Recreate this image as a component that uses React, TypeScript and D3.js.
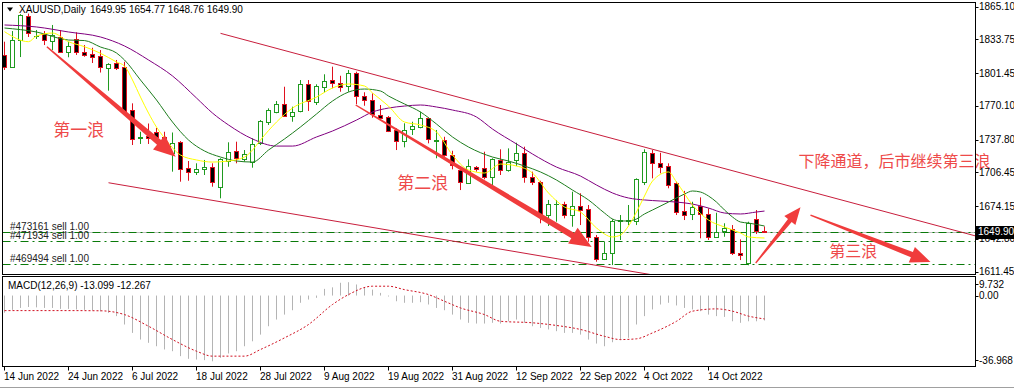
import React from "react";
import * as d3 from "d3";

// ---------- data ----------
const dates = [
  "2022-06-14","2022-06-15","2022-06-16","2022-06-17","2022-06-20","2022-06-21","2022-06-22","2022-06-23","2022-06-24","2022-06-27",
  "2022-06-28","2022-06-29","2022-06-30","2022-07-01","2022-07-04","2022-07-05","2022-07-06","2022-07-07","2022-07-08","2022-07-11",
  "2022-07-12","2022-07-13","2022-07-14","2022-07-15","2022-07-18","2022-07-19","2022-07-20","2022-07-21","2022-07-22","2022-07-25",
  "2022-07-26","2022-07-27","2022-07-28","2022-07-29","2022-08-01","2022-08-02","2022-08-03","2022-08-04","2022-08-05","2022-08-08",
  "2022-08-09","2022-08-10","2022-08-11","2022-08-12","2022-08-15","2022-08-16","2022-08-17","2022-08-18","2022-08-19","2022-08-22",
  "2022-08-23","2022-08-24","2022-08-25","2022-08-26","2022-08-29","2022-08-30","2022-08-31","2022-09-01","2022-09-02","2022-09-05",
  "2022-09-06","2022-09-07","2022-09-08","2022-09-09","2022-09-12","2022-09-13","2022-09-14","2022-09-15","2022-09-16","2022-09-19",
  "2022-09-20","2022-09-21","2022-09-22","2022-09-23","2022-09-26","2022-09-27","2022-09-28","2022-09-29","2022-09-30","2022-10-03",
  "2022-10-04","2022-10-05","2022-10-06","2022-10-07","2022-10-10","2022-10-11","2022-10-12","2022-10-13","2022-10-14","2022-10-17",
  "2022-10-18","2022-10-19","2022-10-20","2022-10-21","2022-10-24","2022-10-25",
];

const open = [
  1818.9,1807.7,1833.2,1856.2,1836.6,1838.5,1832.7,1836.4,1822.0,1834.0,
  1822.0,1820.3,1817.9,1806.7,1811.5,1807.7,1766.2,1739.4,1741.3,1745.4,
  1740.6,1725.5,1735.9,1710.4,1706.9,1709.4,1711.4,1692.8,1717.4,1727.2,
  1719.0,1716.1,1734.3,1755.0,1764.6,1771.7,1760.8,1765.3,1790.8,1773.6,
  1787.9,1794.9,1791.8,1789.5,1801.3,1779.6,1775.8,1761.4,1759.2,1747.1,
  1736.5,1747.7,1750.2,1758.3,1736.1,1737.5,1723.1,1708.8,1696.6,1711.2,
  1710.4,1702.4,1718.4,1708.8,1718.4,1724.8,1701.8,1697.6,1665.7,1675.8,
  1676.2,1665.7,1674.3,1671.2,1644.9,1623.3,1629.6,1659.5,1660.0,1660.3,
  1697.6,1724.8,1715.8,1712.6,1696.0,1669.5,1666.7,1674.3,1666.7,1644.9,
  1650.7,1652.0,1629.6,1619.5,1661.6,1649.95,
];
const high = [
  1831.6,1841.8,1858.0,1858.5,1842.8,1841.8,1847.6,1842.8,1831.6,1840.6,
  1828.4,1825.8,1823.6,1811.0,1814.1,1812.4,1772.6,1745.4,1753.3,1749.0,
  1745.4,1744.7,1736.5,1717.4,1715.2,1718.4,1715.2,1720.0,1735.3,1735.9,
  1727.9,1739.1,1756.6,1767.8,1774.8,1788.5,1769.4,1794.9,1794.9,1790.8,
  1800.4,1807.7,1799.0,1804.5,1802.9,1783.2,1782.2,1771.0,1760.5,1748.7,
  1753.5,1755.0,1764.6,1759.2,1747.1,1740.6,1727.2,1712.6,1719.0,1712.6,
  1726.3,1720.0,1728.6,1729.5,1734.9,1731.1,1707.2,1698.5,1680.1,1680.1,
  1678.4,1688.0,1686.5,1675.3,1646.6,1640.1,1661.6,1665.7,1675.3,1700.8,
  1728.6,1727.9,1725.3,1715.2,1697.6,1688.8,1678.4,1682.6,1672.1,1667.9,
  1657.8,1656.1,1642.4,1659.3,1670.5,1654.77,
];
const low = [
  1804.5,1806.7,1816.9,1836.1,1834.2,1828.4,1823.6,1821.7,1816.7,1818.9,
  1817.2,1811.2,1802.1,1784.7,1804.5,1762.4,1732.7,1733.7,1733.7,1735.9,
  1732.7,1707.2,1697.6,1698.5,1704.0,1704.0,1692.8,1681.7,1711.9,1715.2,
  1716.7,1711.0,1732.7,1751.9,1763.1,1759.8,1755.0,1764.0,1765.3,1771.0,
  1783.1,1787.0,1783.7,1783.7,1771.7,1770.3,1758.8,1756.6,1745.1,1727.9,
  1730.5,1742.3,1748.7,1734.3,1720.0,1721.5,1709.4,1689.6,1695.4,1707.2,
  1699.9,1694.4,1704.0,1707.2,1712.6,1696.6,1694.4,1657.8,1655.2,1659.3,
  1662.5,1654.5,1656.1,1640.1,1621.0,1622.6,1617.8,1641.8,1656.1,1656.1,
  1694.4,1700.8,1705.6,1691.3,1665.7,1660.9,1660.9,1643.4,1641.8,1644.4,
  1644.9,1627.4,1622.6,1617.6,1647.5,1648.76,
];
const close = [
  1807.7,1833.2,1857.1,1839.9,1837.5,1833.2,1838.0,1822.0,1827.5,1822.0,
  1818.9,1816.5,1807.1,1810.2,1806.7,1764.6,1738.5,1740.4,1739.4,1740.6,
  1737.5,1735.1,1709.4,1707.2,1709.3,1711.6,1697.6,1719.3,1726.3,1720.0,
  1723.8,1733.4,1755.7,1766.2,1771.7,1760.5,1764.6,1790.8,1774.8,1789.2,
  1794.0,1791.8,1788.5,1801.3,1779.9,1775.8,1762.1,1758.3,1746.4,1736.5,
  1747.1,1750.9,1758.3,1738.2,1737.5,1723.1,1713.6,1697.6,1712.6,1709.7,
  1701.8,1719.0,1708.8,1716.7,1724.8,1701.8,1697.6,1666.7,1676.2,1676.7,
  1665.7,1674.3,1670.5,1644.4,1623.3,1629.6,1660.3,1660.9,1661.4,1699.9,
  1726.3,1715.8,1711.9,1694.4,1668.9,1665.7,1673.1,1666.7,1644.4,1649.7,
  1653.0,1629.6,1627.4,1657.8,1650.7,1649.90,
];

// moving averages: [bar index, price]
const maFast: [number, number][] = [
  [0,1841.2],[3,1831.6],[4,1837.0],[6,1839.9],[8,1831.6],[10,1826.8],[12,1820.5],[14,1812.2],[15,1808.3],
  [16,1794.9],[17,1778.6],[18,1763.3],[19,1749.9],[20,1739.4],[21,1730.0],[22,1723.1],[24,1718.4],[26,1716.4],
  [28,1717.4],[30,1721.2],[31,1727.9],[32,1737.5],[34,1754.7],[36,1768.1],[39,1778.6],[41,1787.3],[43,1791.1],
  [45,1789.2],[46,1782.5],[48,1770.0],[50,1754.7],[52,1751.9],[54,1745.2],[56,1723.1],[58,1708.8],[60,1705.9],
  [62,1714.5],[64,1712.6],[66,1705.9],[68,1686.8],[70,1673.4],[72,1668.6],[74,1653.3],[76,1644.7],[77,1646.6],
  [78,1655.2],[79,1668.6],[80,1683.9],[81,1698.2],[83,1706.9],[84,1697.3],[86,1675.3],[88,1660.9],[90,1654.2],
  [92,1648.5],[93,1644.7],[95,1643.7],
];
const maMid: [number, number][] = [
  [0,1844.7],[4,1840.9],[8,1833.2],[10,1832.7],[12,1826.5],[14,1820.8],[15,1814.1],[17,1794.9],[19,1775.8],
  [21,1754.7],[23,1737.5],[25,1727.0],[27,1721.2],[29,1717.4],[31,1716.4],[33,1727.9],[35,1738.5],[37,1750.0],
  [39,1762.4],[41,1774.8],[43,1783.4],[45,1786.3],[47,1784.4],[48,1779.6],[50,1772.0],[52,1764.3],[54,1752.8],
  [56,1740.4],[58,1730.8],[61,1721.2],[63,1717.4],[65,1712.6],[67,1706.9],[69,1699.2],[71,1689.6],[73,1680.1],
  [75,1667.6],[76,1661.9],[77,1660.0],[78,1660.0],[79,1661.9],[80,1666.7],[81,1670.5],[83,1678.1],[85,1685.8],
  [86,1688.7],[87,1687.7],[88,1683.9],[89,1678.1],[90,1670.5],[91,1663.8],[92,1659.0],[93,1658.0],[95,1655.2],
];
const maSlow: [number, number][] = [
  [0,1847.6],[4,1845.7],[8,1840.9],[12,1836.1],[15,1827.5],[18,1814.1],[21,1798.8],[24,1777.7],[26,1763.3],
  [28,1751.9],[31,1738.5],[34,1731.7],[36,1731.7],[39,1740.4],[41,1746.1],[44,1756.6],[46,1764.3],[48,1768.1],
  [50,1770.0],[52,1771.0],[54,1769.1],[56,1766.2],[59,1759.5],[61,1748.0],[64,1733.7],[66,1724.1],[69,1711.6],
  [72,1703.0],[74,1694.4],[76,1686.8],[78,1682.0],[80,1680.1],[82,1679.1],[84,1678.1],[86,1676.2],[88,1672.4],
  [90,1667.6],[92,1666.7],[94,1668.6],[95,1669.5],
];

const macdMain = [
  -9.0,-7.5,-6.5,-6.0,-6.2,-6.5,-6.5,-7.0,-7.0,-7.3,
  -7.5,-7.8,-8.3,-9.1,-10.8,-15.2,-19.6,-23.1,-24.8,-26.6,
  -28.3,-29.2,-31.8,-33.2,-33.6,-33.9,-34.5,-32.7,-30.4,-29.2,
  -26.6,-24.0,-20.5,-16.1,-12.6,-10.0,-7.7,-3.8,-2.1,-1.2,
  3.5,4.3,6.7,7.0,5.8,4.0,3.1,1.4,-0.5,-3.0,
  -3.8,-3.8,-3.5,-4.7,-6.5,-7.7,-10.0,-12.6,-14.3,-14.7,
  -14.7,-14.3,-14.7,-13.5,-12.6,-14.3,-16.1,-17.0,-17.8,-18.7,
  -19.6,-19.6,-20.5,-23.1,-25.2,-26.6,-24.5,-23.4,-22.2,-15.2,
  -10.8,-7.3,-4.7,-3.8,-5.2,-6.5,-7.3,-8.2,-10.0,-10.8,
  -11.2,-13.5,-14.3,-13.5,-13.5,-13.099,
];
const macdSignal: [number, number][] = [
  [0,-7.9],[8,-7.9],[12,-8.0],[15,-10.0],[18,-16.1],[21,-23.1],[24,-29.2],[26,-31.8],[30,-31.8],[32,-28.3],
  [35,-22.2],[38,-15.2],[41,-4.7],[43,0.5],[46,4.9],[48,4.9],[50,3.1],[53,0.5],[55,-3.0],[57,-6.5],[60,-10.0],
  [62,-13.5],[66,-14.3],[69,-15.7],[72,-17.8],[75,-21.4],[77,-23.1],[79,-22.7],[81,-19.6],[84,-13.5],[86,-8.2],
  [89,-7.0],[91,-8.2],[93,-10.8],[95,-12.267],
];

const priceTicks = [1865.10, 1833.75, 1801.45, 1770.10, 1737.80, 1706.45, 1674.15, 1642.80, 1611.45];
const macdTicks = [9.732, 0, -36.968];
const bidPrice = 1649.90;

const orderIds = ["#473161", "#471934", "#469494"];
const orderPrices = [1649.2, 1640.9, 1618.6];

// trend lines: two anchors [bar, price] each, extended to the right
const channelUpper: [number, number][] = [[27, 1839.6], [80, 1730.7]];
const channelLower: [number, number][] = [[13, 1696.6], [80, 1609.7]];

// hand-drawn arrows: [start, tip] in [bar, price]
const arrows: [number, number][][] = [
  [[5.3, 1826.8], [21.4, 1721.5]],
  [[43.9, 1771.0], [73.4, 1635.1]],
  [[93.9, 1619.8], [99.5, 1673.2]],
  [[100.75, 1665.7], [115.75, 1620.7]],
];
const arrowHeads = [22, 22, 17, 20];

const noteTexts = ["第一浪", "第二浪", "下降通道，后市继续第三浪", "第三浪"];
const noteAnchors: [number, number][] = [[6.1, 1741.3], [49.1, 1690.6], [99.25, 1711.6], [103.1, 1625.5]];

// ---------- layout ----------
const W = 1014;
const H = 390;
const PL = 2.5, PR = 975.5, MT = 2.5, MB = 274.5, ST = 276.5, SB = 366.5;
const FONT = "'Liberation Sans',Arial,sans-serif";
const FS = 10;
const CJK = "'Noto Sans CJK SC','Noto Sans CJK TC',sans-serif";

const x = d3.scaleLinear().domain([0, 95]).range([4.5, 764.5]);
const y = d3.scaleLinear().domain([1611.45, 1865.10]).range([271.7, 6.7]);
const ym = d3.scaleLinear().domain([-36.968, 9.732]).range([366, 277]);
const parse = d3.timeParse("%Y-%m-%d");
const fmtDate = d3.timeFormat("%-d %b %Y");

const BULL = "#1f9a1f";
const BEAR = "#e0101e";
const ARROW = "#f03c3c";

function arrowPath(s: [number, number], t: [number, number], hl: number) {
  const x1 = x(s[0]), y1 = y(s[1]), x2 = x(t[0]), y2 = y(t[1]);
  const dx = x2 - x1, dy = y2 - y1;
  const len = Math.hypot(dx, dy);
  const ux = dx / len, uy = dy / len;
  const nx = -uy, ny = ux;
  const hw = hl * 0.42, w1 = hl * 0.28, w0 = 1.4;
  const bx = x2 - ux * hl, by = y2 - uy * hl;
  const pts = [
    [x1 + nx * w0 / 2, y1 + ny * w0 / 2],
    [bx + nx * w1 / 2, by + ny * w1 / 2],
    [bx + nx * hw, by + ny * hw],
    [x2, y2],
    [bx - nx * hw, by - ny * hw],
    [bx - nx * w1 / 2, by - ny * w1 / 2],
    [x1 - nx * w0 / 2, y1 - ny * w0 / 2],
  ];
  return "M" + pts.map((p) => p[0].toFixed(1) + "," + p[1].toFixed(1)).join("L") + "Z";
}

function trendPath(a: [number, number][]) {
  const [b1, p1] = a[0];
  const [b2, p2] = a[1];
  const bEnd = x.invert(PR);
  const pEnd = p1 + ((p2 - p1) * (bEnd - b1)) / (b2 - b1);
  return `M${x(b1)},${y(p1)}L${x(bEnd)},${y(pEnd)}`;
}

export default function App() {
  const line = d3
    .line<[number, number]>()
    .x((d) => x(d[0]))
    .y((d) => y(d[1]))
    .curve(d3.curveMonotoneX);
  const sigLine = d3
    .line<[number, number]>()
    .x((d) => x(d[0]))
    .y((d) => ym(d[1]))
    .curve(d3.curveMonotoneX);

  const snap = (v: number) => Math.round(v) + 0.5;

  return (
    <svg
      width={W}
      height={H}
      viewBox={`0 0 ${W} ${H}`}
      style={{ position: "absolute", left: 0, top: 0, background: "#fff" }}
    >
      <defs>
        <clipPath id="mainClip">
          <rect x={PL + 0.5} y={MT + 0.5} width={PR - PL - 1} height={MB - MT - 1} />
        </clipPath>
        <clipPath id="subClip">
          <rect x={PL + 0.5} y={ST + 0.5} width={PR - PL - 1} height={SB - ST - 1} />
        </clipPath>
      </defs>
      <rect x={0} y={0} width={W} height={H} fill="#fff" />

      {/* main panel */}
      <g clipPath="url(#mainClip)">
        <line x1={PL} x2={PR} y1={snap(y(bidPrice))} y2={snap(y(bidPrice))} stroke="#c0c0c0" />
        {orderPrices.map((p, k) => (
          <line
            key={"o" + k}
            x1={PL}
            x2={PR}
            y1={snap(y(p))}
            y2={snap(y(p))}
            stroke="#0a7a0a"
            strokeDasharray="8,4,2,4"
          />
        ))}
        <path d={trendPath(channelUpper)} stroke="#c81e3c" strokeWidth={1} fill="none" />
        <path d={trendPath(channelLower)} stroke="#c81e3c" strokeWidth={1} fill="none" />

        {open.map((o, i) => {
          const c = close[i];
          const bull = c >= o;
          const col = bull ? BULL : BEAR;
          const cx = x(i);
          const top = Math.round(y(Math.max(o, c)));
          const bot = Math.round(y(Math.min(o, c)));
          return (
            <g key={"c" + i}>
              <line x1={cx} x2={cx} y1={y(high[i])} y2={y(low[i])} stroke={col} strokeWidth={1} />
              {bot - top >= 1 ? (
                <rect
                  x={cx - 2}
                  y={top + 0.5}
                  width={4}
                  height={bot - top}
                  fill={bull ? "#fff" : "#000"}
                  stroke={col}
                  strokeWidth={1}
                />
              ) : (
                <line x1={cx - 2.5} x2={cx + 2.5} y1={top + 0.5} y2={top + 0.5} stroke={col} strokeWidth={1} />
              )}
            </g>
          );
        })}

        <path d={line(maSlow) || ""} stroke="#800080" strokeWidth={1} fill="none" />
        <path d={line(maMid) || ""} stroke="#1e7d1e" strokeWidth={1} fill="none" />
        <path d={line(maFast) || ""} stroke="#ffff00" strokeWidth={1} fill="none" />
      </g>

      {orderPrices.map((p, k) => (
        <text key={"ol" + k} x={10} y={y(p) - 2} fontFamily={FONT} fontSize={FS} fill="#222">
          {orderIds[k]} sell 1.00
        </text>
      ))}

      {/* title */}
      <path d="M7,7.5L13,7.5L10,11.5Z" fill="#000" />
      <text x={19} y={13} fontFamily={FONT} fontSize={FS} fill="#000">
        XAUUSD,Daily
      </text>
      <text x={90} y={13} fontFamily={FONT} fontSize={FS} fill="#000">
        {[open[95], high[95], low[95], close[95]].map((v) => v.toFixed(2)).join(" ")}
      </text>

      {/* annotations */}
      {arrows.map((a, k) => (
        <path key={"a" + k} d={arrowPath(a[0] as [number, number], a[1] as [number, number], arrowHeads[k])} fill={ARROW} />
      ))}
      {noteTexts.map((t, k) => (
        <text
          key={"n" + k}
          x={x(noteAnchors[k][0])}
          y={y(noteAnchors[k][1])}
          fontFamily={CJK}
          fontSize={k < 2 ? 17 : 16}
          fill="#ee4a4a"
        >
          {t}
        </text>
      ))}

      {/* MACD panel */}
      <g clipPath="url(#subClip)">
        {macdMain.map((v, i) => (
          <line key={"h" + i} x1={x(i)} x2={x(i)} y1={ym(0)} y2={ym(v)} stroke="#b4b4b4" strokeWidth={1} />
        ))}
        <path d={sigLine(macdSignal) || ""} stroke="#d01020" strokeWidth={1} strokeDasharray="2,2" fill="none" />
      </g>
      <text x={8} y={289} fontFamily={FONT} fontSize={FS} fill="#000">
        MACD(12,26,9) {macdMain[95].toFixed(3)} {macdSignal[macdSignal.length - 1][1].toFixed(3)}
      </text>

      {/* frames */}
      <rect x={PL} y={MT} width={PR - PL} height={MB - MT} fill="none" stroke="#000" />
      <rect x={PL} y={ST} width={PR - PL} height={SB - ST} fill="none" stroke="#000" />
      <line x1={0} x2={W} y1={387.5} y2={387.5} stroke="#a0a0a0" />

      {/* price axis */}
      {priceTicks.map((p) => (
        <g key={"p" + p}>
          <line x1={PR} x2={PR + 3} y1={snap(y(p))} y2={snap(y(p))} stroke="#000" />
          <text x={979} y={y(p) + 3.5} fontFamily={FONT} fontSize={FS} fill="#000">
            {p.toFixed(2)}
          </text>
        </g>
      ))}
      <rect x={PR} y={Math.round(y(bidPrice)) - 6} width={W - PR} height={13} fill="#000" />
      <text x={978} y={y(bidPrice) + 3.5} fontFamily={FONT} fontSize={FS} fill="#fff">
        {bidPrice.toFixed(2)}
      </text>

      {/* MACD axis */}
      {macdTicks.map((v, k) => {
        const yy = k === 0 ? ym(v) + 7 : k === 2 ? ym(v) - 6 : ym(v);
        return (
          <g key={"m" + k}>
            <line x1={PR} x2={PR + 3} y1={snap(yy)} y2={snap(yy)} stroke="#000" />
            <text x={979} y={yy + 3.5} fontFamily={FONT} fontSize={FS} fill="#000">
              {v === 0 ? "0.00" : v.toFixed(3)}
            </text>
          </g>
        );
      })}

      {/* date axis */}
      {dates.map((d, i) =>
        i % 8 === 0 ? (
          <g key={"d" + i}>
            <line x1={x(i)} x2={x(i)} y1={SB} y2={SB + 4} stroke="#000" />
            <text x={x(i) - 0.5} y={380} fontFamily={FONT} fontSize={FS} fill="#000">
              {fmtDate(parse(d) as Date)}
            </text>
          </g>
        ) : null
      )}
    </svg>
  );
}
